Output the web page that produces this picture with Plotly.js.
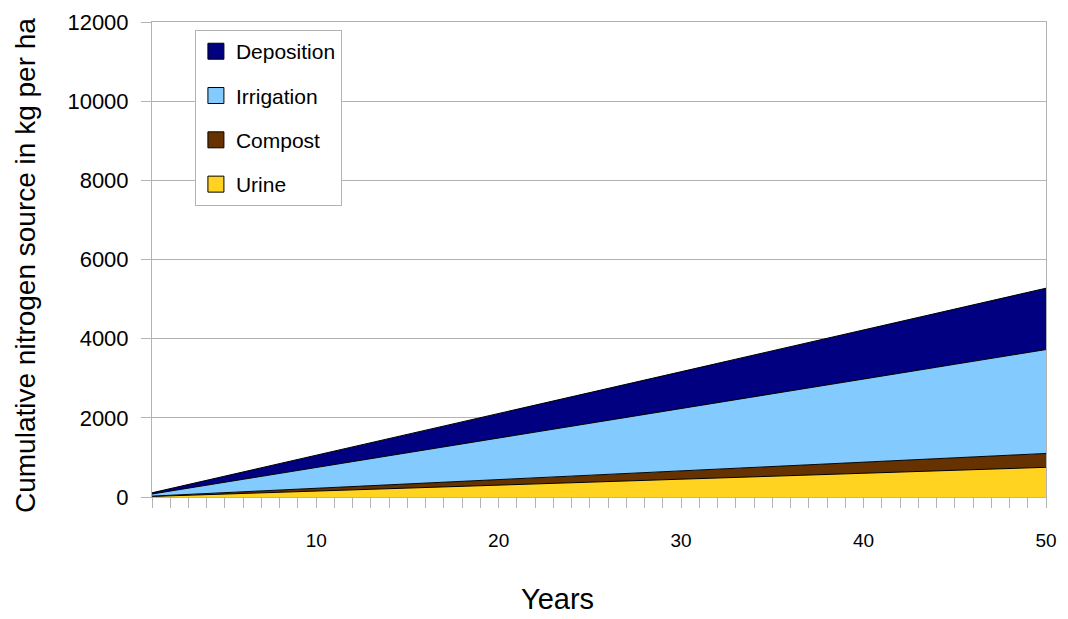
<!DOCTYPE html>
<html>
<head>
<meta charset="utf-8">
<script src="https://cdn.plot.ly/plotly-3.0.1.min.js"></script>
<style>html,body{margin:0;padding:0;background:#fff;}#chart{width:1068px;height:619px;}</style>
</head>
<body>
<div id="chart"></div>
<script>
const years = [1,2,3,4,5,6,7,8,9,10,11,12,13,14,15,16,17,18,19,20,21,22,23,24,25,26,27,28,29,30,31,32,33,34,35,36,37,38,39,40,41,42,43,44,45,46,47,48,49,50];
const urine = [15,30,45,60,75,90,105,120,135,150,165,180,195,210,225,240,255,270,285,300,315,330,345,360,375,390,405,420,435,450,465,480,495,510,525,540,555,570,585,600,615,630,645,660,675,690,705,720,735,750];
const compost = [7,14,21,28,35,42,49,56,63,70,77,84,91,98,105,112,119,126,133,140,147,154,161,168,175,182,189,196,203,210,217,224,231,238,245,252,259,266,273,280,287,294,301,308,315,322,329,336,343,350];
const irrigation = [53,105,158,210,263,315,368,420,473,525,578,630,683,735,788,840,893,945,998,1050,1103,1155,1208,1260,1313,1365,1418,1470,1523,1575,1628,1680,1733,1785,1838,1890,1943,1995,2048,2100,2153,2205,2258,2310,2363,2415,2468,2520,2573,2625];
const deposition = [31,62,93,124,155,186,217,248,279,310,341,372,403,434,465,496,527,558,589,620,651,682,713,744,775,806,837,868,899,930,961,992,1023,1054,1085,1116,1147,1178,1209,1240,1271,1302,1333,1364,1395,1426,1457,1488,1519,1550];

const seriesNames = ['Urine','Compost','Irrigation','Deposition'];
const seriesValues = [urine, compost, irrigation, deposition];
const seriesColors = ['#FFD320','#663300','#83CAFF','#000080'];
const xTicks = [10,20,30,40,50];
const yTicks = [0,2000,4000,6000,8000,10000,12000];

const traces = [];
seriesNames.forEach((name,i)=>{
  traces.push({
    type:'scatter', mode:'lines', x: years, y: seriesValues[i], name: name,
    stackgroup:'one', fillcolor: seriesColors[i],
    line:{color:'#000000', width:1}, showlegend:false, hoverinfo:'skip'
  });
});
// legend entries (square swatches), top to bottom
[3,2,1,0].forEach((i)=>{
  traces.push({
    type:'scatter', mode:'markers', x:[null], y:[null], name: seriesNames[i],
    legendgroup: seriesNames[i],
    marker:{symbol:'square', size:16, color: seriesColors[i], line:{color:'#000000', width:1}},
    showlegend:true, hoverinfo:'skip'
  });
});

const font = "'Liberation Sans', Arial, sans-serif";
const layout = {
  width:1068, height:619,
  margin:{l:152, r:22, t:22, b:122},
  paper_bgcolor:'#ffffff', plot_bgcolor:'#ffffff',
  font:{family:font, color:'#000000', size:20},
  showlegend:true,
  legend:{x:0.048, y:0.983, xanchor:'left', yanchor:'top', bgcolor:'#ffffff',
    bordercolor:'#b3b3b3', borderwidth:1, font:{size:21, family:font},
    traceorder:'grouped', tracegroupgap:14, itemwidth:30},
  xaxis:{range:[1,50], tickvals:xTicks, ticktext:xTicks.map(String),
    showgrid:false, zeroline:false, showline:true, mirror:true, linecolor:'#b3b3b3', linewidth:1,
    ticks:'outside', ticklen:10, tickcolor:'#b3b3b3', tickfont:{size:19},
    ticklabelstandoff:16,
    minor:{dtick:1, tick0:1, ticks:'outside', ticklen:10, tickcolor:'#b3b3b3', showgrid:false}},
  yaxis:{range:[0,12000], tickvals:yTicks, ticktext:yTicks.map(String),
    showgrid:true, gridcolor:'#b3b3b3', gridwidth:1, zeroline:false,
    showline:true, mirror:true, linecolor:'#b3b3b3', linewidth:1,
    ticks:'outside', ticklen:10, tickcolor:'#b3b3b3', tickfont:{size:22},
    ticklabelstandoff:8},
  annotations:[
    {text:'Years', xref:'paper', yref:'paper', x:(557-152)/894, y:-0.215,
      xanchor:'center', yanchor:'middle', showarrow:false, font:{size:29, family:font}},
    {text:'Cumulative nitrogen source in kg per ha', xref:'paper', yref:'paper',
      x:(25-152)/894, y:(497-266)/475, xanchor:'center', yanchor:'middle', textangle:-90,
      showarrow:false, font:{size:28, family:font}}
  ]
};
Plotly.newPlot('chart', traces, layout, {staticPlot:true, displayModeBar:false});
</script>
</body>
</html>
